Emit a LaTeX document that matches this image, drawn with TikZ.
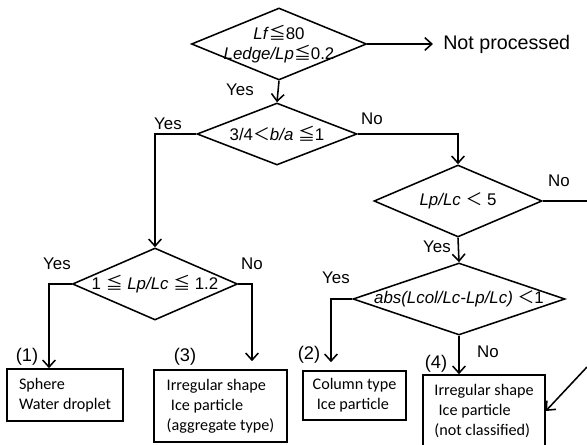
\documentclass[tikz,border=0pt]{standalone}
\usepackage{fontspec}
\setmainfont{Liberation Sans}
\newfontfamily\boxfont{Carlito}
\newfontfamily\cjk{Noto Sans CJK JP}
\usetikzlibrary{shapes.geometric,arrows.meta}

\begin{document}
\begin{tikzpicture}[x=0.025cm,y=-0.025cm,
  dec/.style={draw,shape=diamond,inner sep=0pt,line width=1.1pt},
  dectext/.style={inner sep=0pt,align=center,font=\fontsize{12}{14.2}\selectfont},
  res/.style={draw,rectangle,line width=1.1pt,align=left,font=\boxfont\fontsize{11.5}{14.2}\selectfont},
  lab/.style={inner sep=0pt,font=\fontsize{12}{13}\selectfont},
  num/.style={inner sep=0pt,font=\fontsize{13}{14}\selectfont},
  link/.style={line width=1.1pt,-{Straight Barb[length=5pt,width=9pt]}}]
\useasboundingbox (0,0) rectangle (587,445);
% decisions
\node[dec,minimum width=4.375cm,minimum height=1.8cm] (D1) at (279,44) {};
\node[dectext] (D1t) at (D1) {\textit{Lf}{\cjk ≦}80\\\textit{Ledge/Lp}{\cjk ≦}0.2};
\node[dec,minimum width=4cm,minimum height=1.55cm] (D2) at (277,134) {};
\node[dectext] (D2t) at (D2) {3/4{\cjk ＜}\textit{b/a} {\cjk ≦}1};
\node[dec,minimum width=4.125cm,minimum height=1.8cm] (D3) at (155,284) {};
\node[dectext] (D3t) at (D3) {1 {\cjk ≦} \textit{Lp/Lc} {\cjk ≦} 1.2};
\node[dec,minimum width=4.2cm,minimum height=1.8cm] (D4) at (458,201) {};
\node[dectext] (D4t) at (D4) {\textit{Lp/Lc} {\cjk ＜} 5};
\node[dec,minimum width=5.3cm,minimum height=1.8cm] (D5) at (459,299) {};
\node[dectext] (D5t) at (D5) {\textit{abs(Lcol/Lc-Lp/Lc)} {\cjk ＜}1};
% results
\node[res,minimum width=2.9cm,minimum height=1.3cm] (B1) at (65,395) {Sphere\\Water droplet};
\node[res,minimum width=3.325cm,minimum height=1.8cm] (B3) at (220.5,406) {Irregular shape\\\hspace{3pt}Ice particle\\(aggregate type)};
\node[res,minimum width=2.575cm,minimum height=1.225cm] (B2) at (354.5,395.5) {Column type\\\hspace{3pt}Ice particle};
\node[res,minimum width=3.05cm,minimum height=1.8cm] (B4) at (484,411) {Irregular shape\\\hspace{3pt}Ice particle\\(not classified)};
\node[anchor=west,inner sep=0pt,font=\fontsize{14}{15}\selectfont] (np) at (443,44) {Not processed};
% bends
\coordinate (k1) at (49,284);
\coordinate (k3) at (252,284);
\coordinate (k2) at (331,299);
\coordinate (k4) at (587,201);
\coordinate (k5) at (587,367);
% connectors
\draw[link] (D1.south) -- (D2.north);
\draw[link,shorten >=0.25cm] (D1.east) -- (np.west);
\draw[link] (D2.west) -| (D3.north);
\draw[link] (D2.east) -| (D4.north);
\draw[link] (D3.west) -- (k1) -- (k1 |- B1.north);
\draw[link,shorten >=0.2cm] (D3.east) -- (k3) -- (k3 |- B3.north);
\draw[link] (D4.south) -- (D5.north);
\draw[line width=1.1pt] (D4.east) -- (k4);
\draw[link,shorten >=0.2cm] (D5.west) -- (k2) -- (k2 |- B2.north);
\draw[link] (D5.south) -- (D5.south |- B4.north);
\draw[link] (k5) -- (B4.east);
% labels
\node[lab] (l1) at (240,90) {Yes};
\node[lab] (l2) at (168,124) {Yes};
\node[lab] (l3) at (372,119) {No};
\node[lab] (l4) at (57,264) {Yes};
\node[lab] (l5) at (252,264) {No};
\node[lab] (l6) at (559,181) {No};
\node[lab] (l7) at (437,247) {Yes};
\node[lab] (l8) at (336,278) {Yes};
\node[lab] (l9) at (488,352) {No};
\node[num] (n1) at (27,357) {(1)};
\node[num] (n3) at (185,357) {(3)};
\node[num] (n2) at (309,355) {(2)};
\node[num] (n4) at (436,364) {(4)};
\end{tikzpicture}
\end{document}
